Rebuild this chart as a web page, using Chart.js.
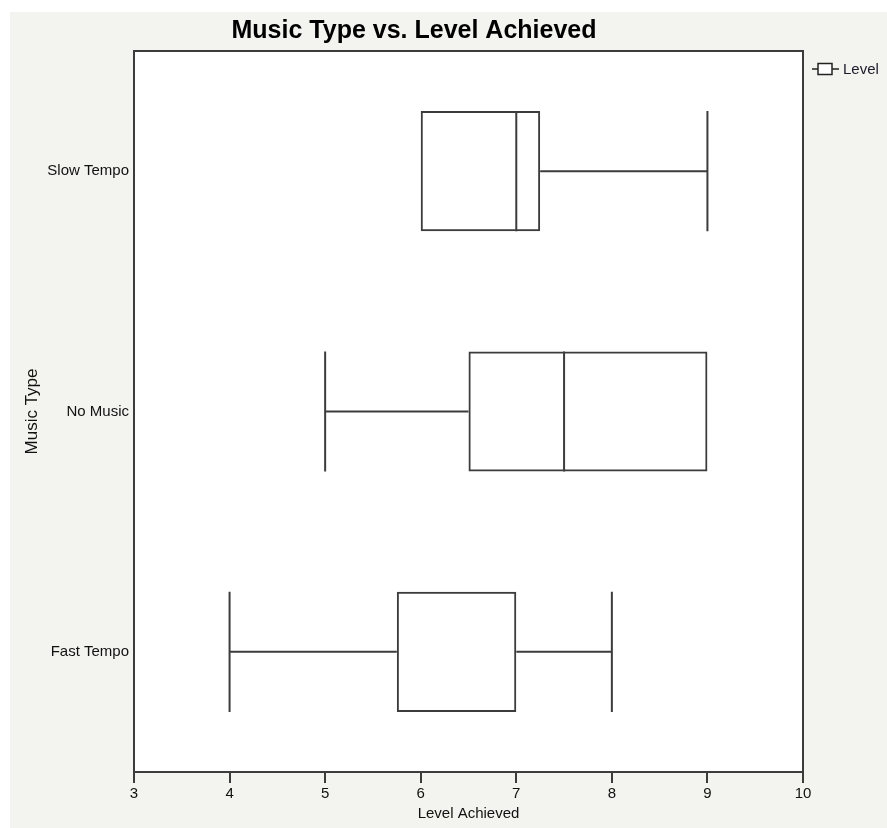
<!DOCTYPE html>
<html>
<head>
<meta charset="utf-8">
<script src="https://cdn.jsdelivr.net/npm/chart.js@4/dist/chart.umd.min.js"></script>
<style>
  html, body { margin: 0; padding: 0; background: #ffffff; }
  #bg { position: absolute; left: 10px; top: 12px; width: 877px; height: 816px; background: #f3f3ef; }
  #wrap { position: absolute; left: 0; top: 0; width: 887px; height: 828px; }
</style>
</head>
<body>
<div id="bg"></div>
<div id="wrap"><canvas id="c" width="887" height="828"></canvas></div>
<script>
const chartTitle = 'Music Type vs. Level Achieved';
const categories = ['Slow Tempo', 'No Music', 'Fast Tempo'];
const mins    = [6,    5,   4];
const q1s     = [6,    6.5, 5.75];
const medians = [7,    7.5, 7];
const q3s     = [7.25, 9,   7];
const maxs    = [9,    9,   8];
const seriesName = 'Level';
const xTitle = 'Level Achieved';
const yTitle = 'Music Type';

const LINE = '#3c3c3c';
const SANS = "'Liberation Sans', Arial, sans-serif";

const boxPlugin = {
  id: 'boxplot',
  beforeDraw(chart) {
    const {ctx, chartArea: a} = chart;
    ctx.save();
    ctx.fillStyle = '#ffffff';
    ctx.fillRect(a.left, a.top, a.right - a.left, a.bottom - a.top);
    ctx.restore();
  },
  afterDatasetsDraw(chart) {
    const {ctx, chartArea: a, scales: {x, y}} = chart;
    const meta = chart.getDatasetMeta(0);
    ctx.save();
    ctx.strokeStyle = LINE;
    ctx.lineWidth = 2;
    categories.forEach((c, i) => {
      const bar = meta.data[i];
      const cy = y.getPixelForValue(i);
      const h = bar.height / 2;
      const px = v => x.getPixelForValue(v);
      const onEdge = v => v === q1s[i] || v === q3s[i];
      ctx.beginPath();
      // whiskers
      if (mins[i] < q1s[i]) { ctx.moveTo(px(mins[i]), cy); ctx.lineTo(px(q1s[i]), cy); }
      if (maxs[i] > q3s[i]) { ctx.moveTo(px(q3s[i]), cy); ctx.lineTo(px(maxs[i]), cy); }
      // caps
      if (!onEdge(mins[i])) { ctx.moveTo(px(mins[i]), cy - h); ctx.lineTo(px(mins[i]), cy + h); }
      if (!onEdge(maxs[i])) { ctx.moveTo(px(maxs[i]), cy - h); ctx.lineTo(px(maxs[i]), cy + h); }
      // median
      if (!onEdge(medians[i])) { ctx.moveTo(px(medians[i]), cy - h); ctx.lineTo(px(medians[i]), cy + h); }
      ctx.stroke();
    });
    // frame
    ctx.lineWidth = 2;
    ctx.strokeRect(a.left, a.top, a.right - a.left, a.bottom - a.top);
    // title
    ctx.fillStyle = '#000000';
    ctx.font = 'bold 25px ' + SANS;
    ctx.textAlign = 'center';
    ctx.textBaseline = 'alphabetic';
    ctx.fillText(chartTitle, 414, 38);
    // legend
    const ly = 69;
    ctx.strokeStyle = '#222222';
    ctx.lineWidth = 1.5;
    ctx.beginPath();
    ctx.moveTo(812, ly); ctx.lineTo(818, ly);
    ctx.moveTo(832, ly); ctx.lineTo(839, ly);
    ctx.stroke();
    ctx.fillStyle = '#ffffff';
    ctx.fillRect(818, 63.5, 14, 11);
    ctx.strokeRect(818, 63.5, 14, 11);
    ctx.fillStyle = '#1a1a2a';
    ctx.font = '15px ' + SANS;
    ctx.textAlign = 'left';
    ctx.textBaseline = 'middle';
    ctx.fillText(seriesName, 843, ly + 1);
    ctx.restore();
  }
};

new Chart(document.getElementById('c'), {
  type: 'bar',
  data: {
    labels: categories,
    datasets: [{
      label: seriesName,
      data: categories.map((c, i) => [q1s[i], q3s[i]]),
      backgroundColor: 'rgba(255,255,255,0)',
      borderColor: LINE,
      borderWidth: 2,
      borderSkipped: false,
      barPercentage: 0.5,
      categoryPercentage: 1.0
    }]
  },
  options: {
    indexAxis: 'y',
    responsive: false,
    animation: false,
    layout: { padding: { left: 0, top: 51, right: 84, bottom: 0 } },
    plugins: {
      legend: { display: false },
      tooltip: { enabled: false },
      title: { display: false }
    },
    scales: {
      x: {
        type: 'linear',
        min: 3, max: 10,
        afterFit: s => { s.height = 56; },
        border: { display: false },
        grid: { display: true, drawOnChartArea: false, drawTicks: true, tickLength: 11, color: LINE, lineWidth: 2 },
        ticks: { stepSize: 1, color: '#111111', padding: 2, font: { family: SANS, size: 15 }, maxRotation: 0 },
        title: { display: true, text: xTitle, color: '#111111', font: { family: SANS, size: 15 }, padding: { top: 0, bottom: 5 } }
      },
      y: {
        afterFit: s => { s.width = 134; },
        border: { display: false },
        grid: { display: false, drawTicks: false },
        ticks: { color: '#111111', padding: 5, font: { family: SANS, size: 15 } },
        title: { display: true, text: yTitle, color: '#111111', font: { family: SANS, size: 17 }, padding: { top: 22, bottom: 0 } }
      }
    }
  },
  plugins: [boxPlugin]
});
</script>
</body>
</html>
